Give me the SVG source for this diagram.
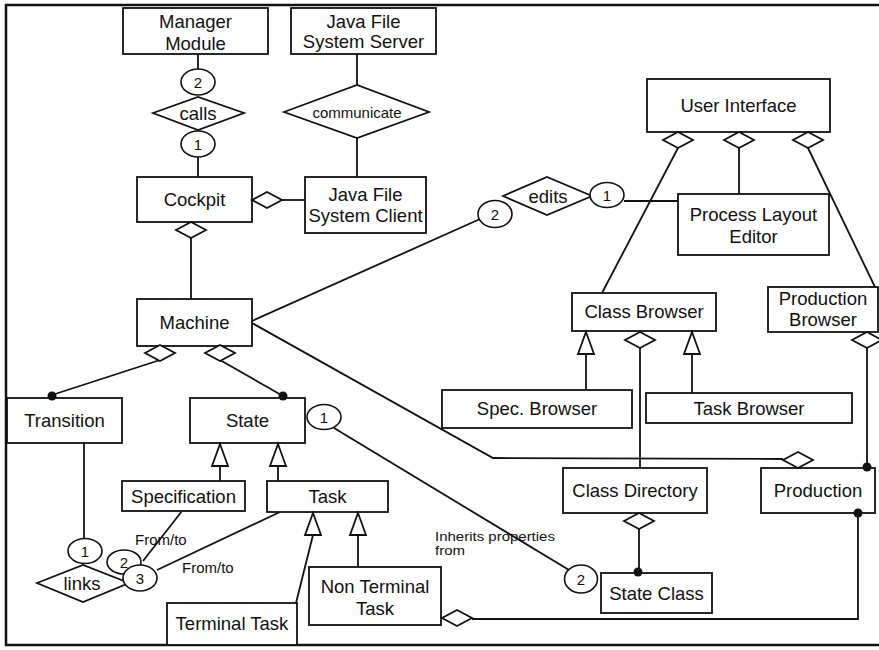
<svg xmlns="http://www.w3.org/2000/svg" xmlns:xlink="http://www.w3.org/1999/xlink" width="879" height="650" viewBox="0 0 879 650">
  <style>
    .box { fill: #fff; stroke: #111; stroke-width: 1.8; }
    .ln { fill: none; stroke: #111; stroke-width: 1.8; }
    .rel { fill: #fff; stroke: #111; stroke-width: 1.8; }
    .role { fill: #fff; stroke: #111; stroke-width: 1.6; }
    .dot { fill: #111; }
    text { font-family: "Liberation Sans", Arial, Helvetica, sans-serif; fill: #111; text-anchor: middle; }
    .t { font-size: 18.5px; }
    .s { font-size: 15px; }
    .n { font-size: 15px; }
    .lab { font-size: 15px; text-anchor: start; }
  </style>
  <defs>
    <!-- hollow aggregation diamond, centred on the origin -->
    <path id="agg" class="rel" d="M-15,0 L0,-8 L15,0 L0,8 Z"/>
    <!-- hollow generalisation triangle, tip at the origin -->
    <path id="gen" class="rel" d="M0,0 L8,22 L-8,22 Z"/>
  </defs>

  <rect width="879" height="650" fill="#fff"/>
  <!-- frame -->
  <path class="ln" style="stroke-width:2.5" d="M879,5 H6 V645 H879"/>

  <g id="connectors">
    <line class="ln" x1="198" y1="54" x2="198" y2="69"/>
    <line class="ln" x1="198" y1="157" x2="198" y2="177"/>
    <line class="ln" x1="357" y1="54" x2="357" y2="85"/>
    <line class="ln" x1="357" y1="138" x2="357" y2="177"/>
    <line class="ln" x1="282" y1="200" x2="305" y2="200"/>
    <line class="ln" x1="191" y1="238" x2="191" y2="299"/>
    <line class="ln" x1="160" y1="360" x2="52" y2="395"/>
    <line class="ln" x1="220" y1="360" x2="283" y2="396"/>
    <line class="ln" x1="252" y1="321" x2="480" y2="219"/>
    <polyline class="ln" points="252,323 493,458 783,459"/>
    <line class="ln" x1="624" y1="201" x2="678" y2="201"/>
    <line class="ln" x1="678" y1="148" x2="602" y2="293"/>
    <line class="ln" x1="739" y1="148" x2="739" y2="194"/>
    <line class="ln" x1="808" y1="148" x2="875" y2="287"/>
    <line class="ln" x1="586" y1="354" x2="586" y2="390"/>
    <line class="ln" x1="692" y1="354" x2="692" y2="393"/>
    <line class="ln" x1="640" y1="348" x2="640" y2="468"/>
    <line class="ln" x1="639" y1="529" x2="639" y2="572"/>
    <line class="ln" x1="867" y1="348" x2="867" y2="467"/>
    <polyline class="ln" points="858,513 858,619 472,619"/>
    <line class="ln" x1="334" y1="428" x2="569" y2="570"/>
    <line class="ln" x1="220" y1="466" x2="220" y2="481"/>
    <line class="ln" x1="278" y1="466" x2="278" y2="481"/>
    <line class="ln" x1="313" y1="535" x2="296" y2="603"/>
    <line class="ln" x1="358" y1="535" x2="358" y2="567"/>
    <line class="ln" x1="84" y1="443" x2="84" y2="538"/>
    <line class="ln" x1="182" y1="511" x2="143" y2="561"/>
    <line class="ln" x1="280" y1="512" x2="157" y2="570"/>

    <text class="lab" x="135" y="545">From/to</text>
    <text class="lab" x="182" y="573">From/to</text>
    <g transform="translate(435,541) scale(1,0.85)">
      <text class="lab" x="0" y="0">Inherits properties</text>
      <text class="lab" x="0" y="17">from</text>
    </g>
  </g>

  <!-- relationship diamonds -->
  <g id="calls">
    <path class="rel" d="M153,113 L198,97 L244,113 L198,130 Z"/>
    <text class="t" x="198" y="119.5">calls</text>
  </g>
  <g id="communicate">
    <path class="rel" d="M284,112 L357,85 L429,112 L357,138 Z"/>
    <text class="s" x="357" y="117.5">communicate</text>
  </g>
  <g id="edits">
    <path class="rel" d="M503,196 L547,177 L592,196 L547,215 Z"/>
    <text class="t" x="548" y="202.5">edits</text>
  </g>
  <g id="links">
    <path class="rel" d="M37,583 L83,565 L129,583 L83,602 Z"/>
    <text class="t" x="82" y="589.5">links</text>
  </g>

  <!-- classes -->
  <g id="manager-module">
    <rect class="box" x="123" y="8" width="145" height="46"/>
    <text class="t" x="195.5" y="28">Manager</text>
    <text class="t" x="195.5" y="50">Module</text>
  </g>
  <g id="jfs-server">
    <rect class="box" x="291" y="8" width="145" height="46"/>
    <text class="t" x="363.5" y="28">Java File</text>
    <text class="t" x="363.5" y="48">System Server</text>
  </g>
  <g id="cockpit">
    <rect class="box" x="137" y="177" width="115" height="45"/>
    <text class="t" x="194.5" y="206">Cockpit</text>
  </g>
  <g id="jfs-client">
    <rect class="box" x="305" y="177" width="121" height="56"/>
    <text class="t" x="365.5" y="201">Java File</text>
    <text class="t" x="365.5" y="222">System Client</text>
  </g>
  <g id="user-interface">
    <rect class="box" x="647" y="79" width="183" height="53"/>
    <text class="t" x="738.5" y="112">User Interface</text>
  </g>
  <g id="process-layout-editor">
    <rect class="box" x="678" y="194" width="151" height="61"/>
    <text class="t" x="753.5" y="221">Process Layout</text>
    <text class="t" x="753.5" y="243">Editor</text>
  </g>
  <g id="machine">
    <rect class="box" x="137" y="299" width="115" height="47"/>
    <text class="t" x="194.5" y="329">Machine</text>
  </g>
  <g id="class-browser">
    <rect class="box" x="572" y="293" width="144" height="38"/>
    <text class="t" x="644" y="318">Class Browser</text>
  </g>
  <g id="production-browser">
    <rect class="box" x="768" y="287" width="110" height="45"/>
    <text class="t" x="823" y="305">Production</text>
    <text class="t" x="823" y="326">Browser</text>
  </g>
  <g id="spec-browser">
    <rect class="box" x="442" y="390" width="190" height="38"/>
    <text class="t" x="537" y="415">Spec. Browser</text>
  </g>
  <g id="task-browser">
    <rect class="box" x="646" y="393" width="206" height="30"/>
    <text class="t" x="749" y="414.5">Task Browser</text>
  </g>
  <g id="transition">
    <rect class="box" x="7" y="398" width="115" height="45"/>
    <text class="t" x="64.5" y="427">Transition</text>
  </g>
  <g id="state">
    <rect class="box" x="190" y="398" width="115" height="45"/>
    <text class="t" x="247.5" y="427">State</text>
  </g>
  <g id="class-directory">
    <rect class="box" x="563" y="468" width="144" height="45"/>
    <text class="t" x="635" y="497">Class Directory</text>
  </g>
  <g id="production">
    <rect class="box" x="761" y="468" width="114" height="45"/>
    <text class="t" x="818" y="497">Production</text>
  </g>
  <g id="specification">
    <rect class="box" x="122" y="481" width="123" height="30"/>
    <text class="t" x="183.5" y="502.5">Specification</text>
  </g>
  <g id="task">
    <rect class="box" x="267" y="481" width="121" height="31"/>
    <text class="t" x="327.5" y="503">Task</text>
  </g>
  <g id="non-terminal-task">
    <rect class="box" x="309" y="567" width="132" height="58"/>
    <text class="t" x="375" y="593">Non Terminal</text>
    <text class="t" x="375" y="615">Task</text>
  </g>
  <g id="terminal-task">
    <rect class="box" x="167" y="603" width="130" height="42"/>
    <text class="t" x="232" y="630">Terminal Task</text>
  </g>
  <g id="state-class">
    <rect class="box" x="601" y="573" width="111" height="40"/>
    <text class="t" x="656.5" y="600">State Class</text>
  </g>

  <!-- aggregation, generalisation and multiplicity adornments -->
  <g id="adornments">
    <use xlink:href="#agg" x="267" y="200"/>
    <use xlink:href="#agg" x="191" y="230"/>
    <use xlink:href="#agg" x="160" y="353"/>
    <use xlink:href="#agg" x="220" y="353"/>
    <use xlink:href="#agg" x="678" y="140"/>
    <use xlink:href="#agg" x="739" y="140"/>
    <use xlink:href="#agg" x="808" y="140"/>
    <use xlink:href="#agg" x="640" y="340"/>
    <use xlink:href="#agg" x="867" y="340"/>
    <use xlink:href="#agg" x="798" y="460"/>
    <use xlink:href="#agg" x="639" y="521"/>
    <use xlink:href="#agg" x="457" y="618"/>

    <use xlink:href="#gen" x="586" y="332"/>
    <use xlink:href="#gen" x="692" y="332"/>
    <use xlink:href="#gen" x="220" y="444"/>
    <use xlink:href="#gen" x="278" y="444"/>
    <use xlink:href="#gen" x="313" y="513"/>
    <use xlink:href="#gen" x="358" y="513"/>

    <circle class="dot" cx="52" cy="396" r="4.5"/>
    <circle class="dot" cx="283" cy="396" r="4.5"/>
    <circle class="dot" cx="638" cy="572" r="4.5"/>
    <circle class="dot" cx="867" cy="467" r="4.5"/>
    <circle class="dot" cx="858" cy="513" r="4.5"/>
  </g>

  <g id="roles">
    <ellipse class="role" cx="198" cy="82" rx="17" ry="13"/>
    <text class="n" x="198" y="87.5">2</text>
    <ellipse class="role" cx="198" cy="144" rx="17" ry="13"/>
    <text class="n" x="198" y="149.5">1</text>
    <ellipse class="role" cx="495" cy="214" rx="17" ry="13.5"/>
    <text class="n" x="495" y="219.5">2</text>
    <ellipse class="role" cx="607" cy="195" rx="17" ry="12.5"/>
    <text class="n" x="607" y="200.5">1</text>
    <ellipse class="role" cx="324" cy="417" rx="17" ry="12.5"/>
    <text class="n" x="324" y="422.5">1</text>
    <ellipse class="role" cx="581" cy="579" rx="16.5" ry="14"/>
    <text class="n" x="581" y="584.5">2</text>
    <ellipse class="role" cx="85" cy="551" rx="17" ry="12.5"/>
    <text class="n" x="85" y="556.5">1</text>
    <ellipse class="role" cx="124" cy="562" rx="17" ry="12"/>
    <text class="n" x="124" y="567.5">2</text>
    <ellipse class="role" cx="140" cy="578" rx="17" ry="13"/>
    <text class="n" x="140" y="583.5">3</text>
  </g>
</svg>
